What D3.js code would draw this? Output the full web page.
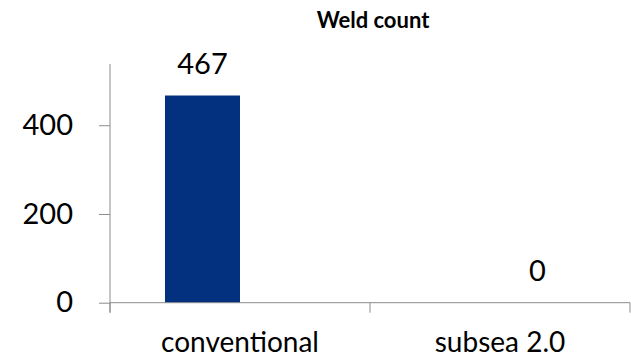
<!DOCTYPE html>
<html>
<head>
<meta charset="utf-8">
<script src="https://cdn.jsdelivr.net/npm/d3@7"></script>
<style>
  body { margin: 0; background: #fff; }
  svg { display: block; font-family: Lato, "Open Sans", sans-serif; }
</style>
</head>
<body>
<div id="chart"></div>
<script>
// Weld count - clustered bars, one value per series
const categories = ["conventional", "subsea 2.0"];
const seriesNames = ["conventional", "subsea 2.0"];
const conventionalValues = [467, null];
const subseaValues = [null, 0];
const yTicks = [0, 200, 400];

const width = 631, height = 360;
const margin = { top: 64, right: 1, bottom: 57, left: 110 };

const svg = d3.select("#chart").append("svg")
  .attr("width", width)
  .attr("height", height);

const x = d3.scaleBand()
  .domain(categories)
  .range([margin.left, width - margin.right])
  .paddingInner(0)
  .paddingOuter(0);

// inner slots for the two series inside each category
const xs = d3.scaleBand()
  .domain(seriesNames)
  .range([0, x.bandwidth()])
  .paddingOuter(0.733)
  .paddingInner(0);

const y = d3.scaleLinear()
  .domain([0, 538])
  .range([height - margin.bottom - 0.3, margin.top]);

const axisColor = "#8c8c8c";

// title
svg.append("text")
  .attr("x", 373)
  .attr("y", 28)
  .attr("text-anchor", "middle")
  .style("font-weight", "bold")
  .style("font-size", "22px")
  .text("Weld count");

// bars
const rows = [conventionalValues, subseaValues];
rows.forEach((vals, si) => {
  const g = svg.append("g");
  categories.forEach((c, i) => {
    const v = vals[i];
    if (v === null) return;
    const bx = x(c) + xs(seriesNames[si]);
    g.append("rect")
      .attr("x", bx)
      .attr("y", y(v))
      .attr("width", xs.bandwidth())
      .attr("height", y(0) - y(v))
      .attr("fill", "#03307f");
    g.append("text")
      .attr("x", bx + xs.bandwidth() / 2)
      .attr("y", y(v) - 22)
      .attr("text-anchor", "middle")
      .style("font-size", "29px")
      .text(v);
  });
});

// y axis
const yAxis = svg.append("g")
  .attr("transform", `translate(${margin.left},0)`)
  .call(d3.axisLeft(y).tickValues(yTicks).tickSize(11).tickPadding(26).tickSizeOuter(0));
yAxis.select(".domain").remove();
yAxis.selectAll("line").attr("stroke", axisColor);
yAxis.selectAll("text")
  .style("font-size", "29px")
  .style("font-family", "Lato, sans-serif")
  .attr("fill", "#000");
yAxis.append("line")
  .attr("x1", 0).attr("x2", 0)
  .attr("y1", margin.top).attr("y2", y(0) + 10)
  .attr("stroke", axisColor);

// x axis
const xAxis = svg.append("g")
  .attr("transform", `translate(0,${y(0)})`);
xAxis.append("line")
  .attr("x1", margin.left).attr("x2", width - margin.right)
  .attr("y1", 0).attr("y2", 0)
  .attr("stroke", axisColor);
const boundaries = categories.map(c => x(c) + x.bandwidth()).concat([x(categories[0])]);
xAxis.selectAll(".tick-b").data(boundaries).enter()
  .append("line")
  .attr("x1", d => d).attr("x2", d => d)
  .attr("y1", 0).attr("y2", 10)
  .attr("stroke", axisColor);
xAxis.selectAll(".cat").data(categories).enter()
  .append("text")
  .attr("x", d => x(d) + x.bandwidth() / 2)
  .attr("y", 49)
  .attr("text-anchor", "middle")
  .style("font-size", "28px")
  .text(d => d);
</script>
</body>
</html>
